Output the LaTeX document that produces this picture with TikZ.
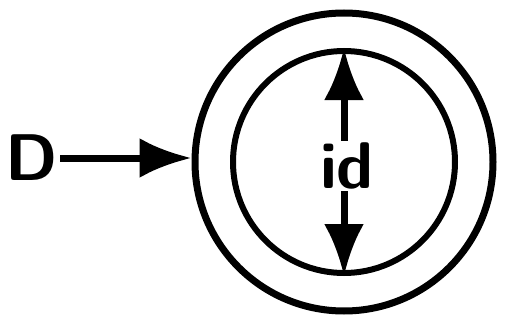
\documentclass[tikz,border=0pt]{standalone}
\usetikzlibrary{arrows.meta}
\begin{document}
\begin{tikzpicture}[x=1pt, y=-1pt,
  ring/.style = {draw=black, circle, inner sep=0pt},
  lbl/.style = {font=\fontsize{66}{70}\selectfont\sffamily\bfseries, inner sep=2pt},
  arr/.style = {line width=7pt, -{Latex[length=52pt, width=40pt]}}]
\useasboundingbox (0,0) rectangle (512,324);
\node [ring, line width=7pt, minimum size=298pt] (outer) at (344,162) {};
\node [ring, line width=6pt, minimum size=222pt] (inner) at (344,162) {};
\node [lbl] (D) at (32,158) {D};
\node [lbl] (id) at (347,166) {id};
\draw [arr] (D.east) -- (outer.west |- D.east);
\draw [arr] (id.north -| inner.north) -- (inner.north);
\draw [arr] (id.south -| inner.south) -- (inner.south);
\end{tikzpicture}
\end{document}
